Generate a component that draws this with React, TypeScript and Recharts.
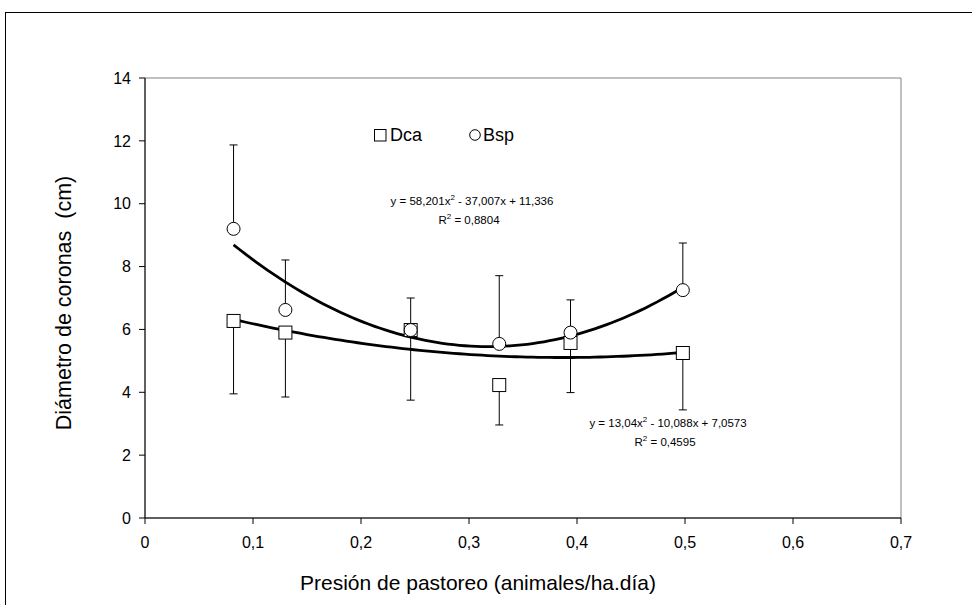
import React from 'react';
import {
  ComposedChart,
  Scatter,
  Line,
  XAxis,
  YAxis,
  ErrorBar,
  ReferenceArea,
  ReferenceDot,
} from 'recharts';

// ---- data ----
const pressure = [0.082, 0.13, 0.246, 0.328, 0.394, 0.498];
const bspValues = [9.2, 6.62, 5.98, 5.54, 5.9, 7.25];
const bspErrUp = [2.67, 1.59, 1.02, 2.17, 1.04, 1.5];
const dcaValues = [6.27, 5.9, 5.98, 4.23, 5.57, 5.25];
const dcaErrDown = [2.32, 2.05, 2.23, 1.27, 1.58, 1.81];

const xTicks = [0, 0.1, 0.2, 0.3, 0.4, 0.5, 0.6, 0.7];
const yTicks = [0, 2, 4, 6, 8, 10, 12, 14];

// polynomial trendline coefficients shown on the chart (a, b, c for ax²+bx+c)
const bspCoef = [58.201, -37.007, 11.336];
const dcaCoef = [13.04, -10.088, 7.0573];
const trendRange = [0.082, 0.5];

const bspEq = ['y = 58,201x', ' - 37,007x + 11,336'];
const bspR2 = '0,8804';
const dcaEq = ['y = 13,04x', ' - 10,088x + 7,0573'];
const dcaR2 = '0,4595';

const seriesNames = ['Dca', 'Bsp'];

const FONT = '"Liberation Sans", Arial, sans-serif';

const bspData = pressure.map((x, i) => ({ x, y: bspValues[i], err: [0, bspErrUp[i]] }));
const dcaData = pressure.map((x, i) => ({ x, y: dcaValues[i], err: [dcaErrDown[i], 0] }));

const trend = (c: number[]) => {
  const pts: { x: number; y: number }[] = [];
  const n = 80;
  for (let i = 0; i <= n; i++) {
    const x = trendRange[0] + ((trendRange[1] - trendRange[0]) * i) / n;
    pts.push({ x, y: c[0] * x * x + c[1] * x + c[2] });
  }
  return pts;
};
const bspTrend = trend(bspCoef);
const dcaTrend = trend(dcaCoef);

const Square = (props: any) => {
  const { cx, cy } = props;
  if (cx == null || cy == null) return <g />;
  return <rect x={cx - 6.5} y={cy - 6.5} width={13} height={13} fill="#fff" stroke="#000" strokeWidth={1} />;
};
const Circle = (props: any) => {
  const { cx, cy } = props;
  if (cx == null || cy == null) return <g />;
  return <circle cx={cx} cy={cy} r={6.5} fill="#fff" stroke="#000" strokeWidth={1} />;
};
const Empty = () => <g />;

const EqLabel = (lines: { eq: string[]; r2: string }) => (props: any) => {
  const { viewBox } = props;
  const x = viewBox.x + (viewBox.width || 0) / 2;
  const y = viewBox.y + (viewBox.height || 0) / 2;
  return (
    <g fontFamily={FONT} fontSize={11.5} fill="#000">
      <text x={x} y={y} textAnchor="middle">
        <tspan>{lines.eq[0]}</tspan>
        <tspan dy={-4.5} fontSize={8}>2</tspan>
        <tspan dy={4.5}>{lines.eq[1]}</tspan>
      </text>
      <text x={x - 3} y={y + 19} textAnchor="middle">
        <tspan>R</tspan>
        <tspan dy={-4.5} fontSize={8}>2</tspan>
        <tspan dy={4.5}>{' = ' + lines.r2}</tspan>
      </text>
    </g>
  );
};

const LegendBox = () => (
  <div
    style={{
      position: 'absolute',
      left: 374,
      top: 125,
      fontFamily: FONT,
      fontSize: 18,
      lineHeight: '20px',
      color: '#000',
      display: 'flex',
      alignItems: 'center',
      whiteSpace: 'nowrap',
    }}
  >
    <svg width={13} height={13} style={{ marginRight: 3 }}>
      <rect x={0.5} y={0.5} width={11.5} height={11.5} fill="#fff" stroke="#000" />
    </svg>
    <span>{seriesNames[0]}</span>
    <svg width={12} height={12} style={{ marginLeft: 47, marginRight: 2 }}>
      <circle cx={6} cy={6} r={5.3} fill="#fff" stroke="#000" />
    </svg>
    <span>{seriesNames[1]}</span>
  </div>
);

export default function App() {
  return (
    <div style={{ position: 'fixed', left: 0, top: 0, width: 972, height: 605, overflow: 'hidden', background: '#fff' }}>
      <div
        style={{
          position: 'absolute',
          left: 5,
          top: 12,
          width: 1100,
          height: 800,
          borderLeft: '1px solid #000',
          borderTop: '1px solid #000',
          boxSizing: 'border-box',
        }}
      />
      <div style={{ position: 'absolute', left: 0, top: 0 }}>
        <ComposedChart
          width={972}
          height={605}
          margin={{ top: 78, right: 71, bottom: 0, left: 0 }}
          style={{ fontFamily: FONT }}
        >
          <ReferenceArea x1={0} x2={0.7} y1={0} y2={14} fill="none" stroke="#808080" strokeWidth={1} ifOverflow="visible" />
          <XAxis
            type="number"
            dataKey="x"
            domain={[0, 0.7]}
            ticks={xTicks}
            allowDataOverflow
            height={87}
            stroke="#000"
            tickSize={6}
            tickMargin={13}
            tick={{ fill: '#000', fontSize: 16, fontFamily: FONT }}
            tickFormatter={(v: number) => (v === 0 ? '0' : v.toFixed(1).replace('.', ','))}
            label={{
              value: 'Presión de pastoreo (animales/ha.día)',
              position: 'insideBottom',
              offset: 15,
              dx: -45,
              style: { fill: '#000', fontSize: 21, fontFamily: FONT },
            }}
          />
          <YAxis
            type="number"
            dataKey="y"
            domain={[0, 14]}
            ticks={yTicks}
            allowDataOverflow
            width={145}
            stroke="#000"
            tickSize={6}
            tickMargin={8}
            tick={{ fill: '#000', fontSize: 16, fontFamily: FONT }}
            label={{
              value: 'Diámetro de coronas \u00a0(cm)',
              angle: -90,
              position: 'center',
              dx: -9,
              dy: 5,
              style: { fill: '#000', fontSize: 21.5, fontFamily: FONT, textAnchor: 'middle' },
            }}
          />

          {/* error bars (drawn first, under the markers) */}
          <Scatter name="BspErr" data={bspData} dataKey="y" shape={<Empty />} isAnimationActive={false} legendType="none">
            <ErrorBar dataKey="err" direction="y" width={4} stroke="#000" strokeWidth={1} isAnimationActive={false} />
          </Scatter>
          <Scatter name="DcaErr" data={dcaData} dataKey="y" shape={<Empty />} isAnimationActive={false} legendType="none">
            <ErrorBar dataKey="err" direction="y" width={4} stroke="#000" strokeWidth={1} isAnimationActive={false} />
          </Scatter>

          {/* markers */}
          <Scatter name="Dca" data={dcaData} dataKey="y" shape={<Square />} isAnimationActive={false} />
          <Scatter name="Bsp" data={bspData} dataKey="y" shape={<Circle />} isAnimationActive={false} />

          {/* trendlines */}
          <Line data={bspTrend} dataKey="y" type="linear" dot={false} activeDot={false} stroke="#000" strokeWidth={2.8} isAnimationActive={false} legendType="none" />
          <Line data={dcaTrend} dataKey="y" type="linear" dot={false} activeDot={false} stroke="#000" strokeWidth={2.8} isAnimationActive={false} legendType="none" />

          <ReferenceDot x={0.3028} y={9.96} r={0} fill="none" stroke="none" label={EqLabel({ eq: bspEq, r2: bspR2 })} />
          <ReferenceDot x={0.4843} y={2.9} r={0} fill="none" stroke="none" label={EqLabel({ eq: dcaEq, r2: dcaR2 })} />
        </ComposedChart>
      </div>
      <LegendBox />
    </div>
  );
}
